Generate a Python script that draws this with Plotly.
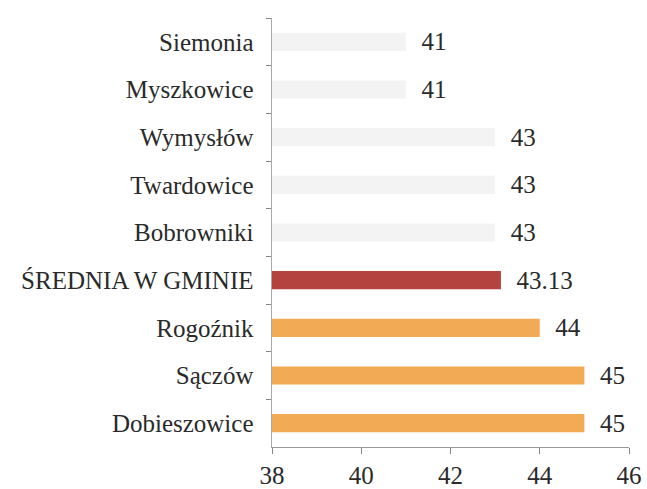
import plotly.graph_objects as go

categories = ["Siemonia", "Myszkowice", "Wymysłów", "Twardowice", "Bobrowniki",
              "ŚREDNIA W GMINIE", "Rogoźnik", "Sączów", "Dobieszowice"]
values = [41, 41, 43, 43, 43, 43.13, 44, 45, 45]
value_labels = ["41", "41", "43", "43", "43", "43.13", "44", "45", "45"]
x_ticks = [38, 40, 42, 44, 46]

colors = []
for c in categories:
    if c == "ŚREDNIA W GMINIE":
        colors.append("#b4423f")
    elif c in ("Rogoźnik", "Sączów", "Dobieszowice"):
        colors.append("#f3aa55")
    else:
        colors.append("#f3f3f3")

fig = go.Figure(go.Bar(
    y=categories, x=values, orientation="h",
    marker=dict(color=colors, line=dict(width=0)),
    width=0.38,
    text=["\u00a0\u00a0" + t for t in value_labels],
    textposition="outside",
    constraintext="none",
    textfont=dict(family="Liberation Serif", size=25, color="#2a2a2a"),
    cliponaxis=False,
))

fig.update_layout(
    width=647, height=489,
    margin=dict(l=272, r=18, t=18, b=42),
    paper_bgcolor="white", plot_bgcolor="white",
    showlegend=False,
    font=dict(family="Liberation Serif", size=25, color="#2a2a2a"),
    xaxis=dict(range=[38, 46], tickvals=x_ticks, ticks="outside", ticklen=6,
               tickcolor="#888", showgrid=False, zeroline=False,
               showline=True, linecolor="#999", linewidth=1,
               tickfont=dict(size=25), automargin=False),
    yaxis=dict(autorange="reversed", ticks="outside", ticklen=5, tickcolor="#888",
               tickson="boundaries", showgrid=False, showline=True,
               linecolor="#aaa", linewidth=1, ticksuffix="\u00a0\u00a0",
               tickfont=dict(size=25), automargin=False),
)

fig.write_html("out.html", config={"displayModeBar": False},
               post_script="document.body.style.margin='0';")
